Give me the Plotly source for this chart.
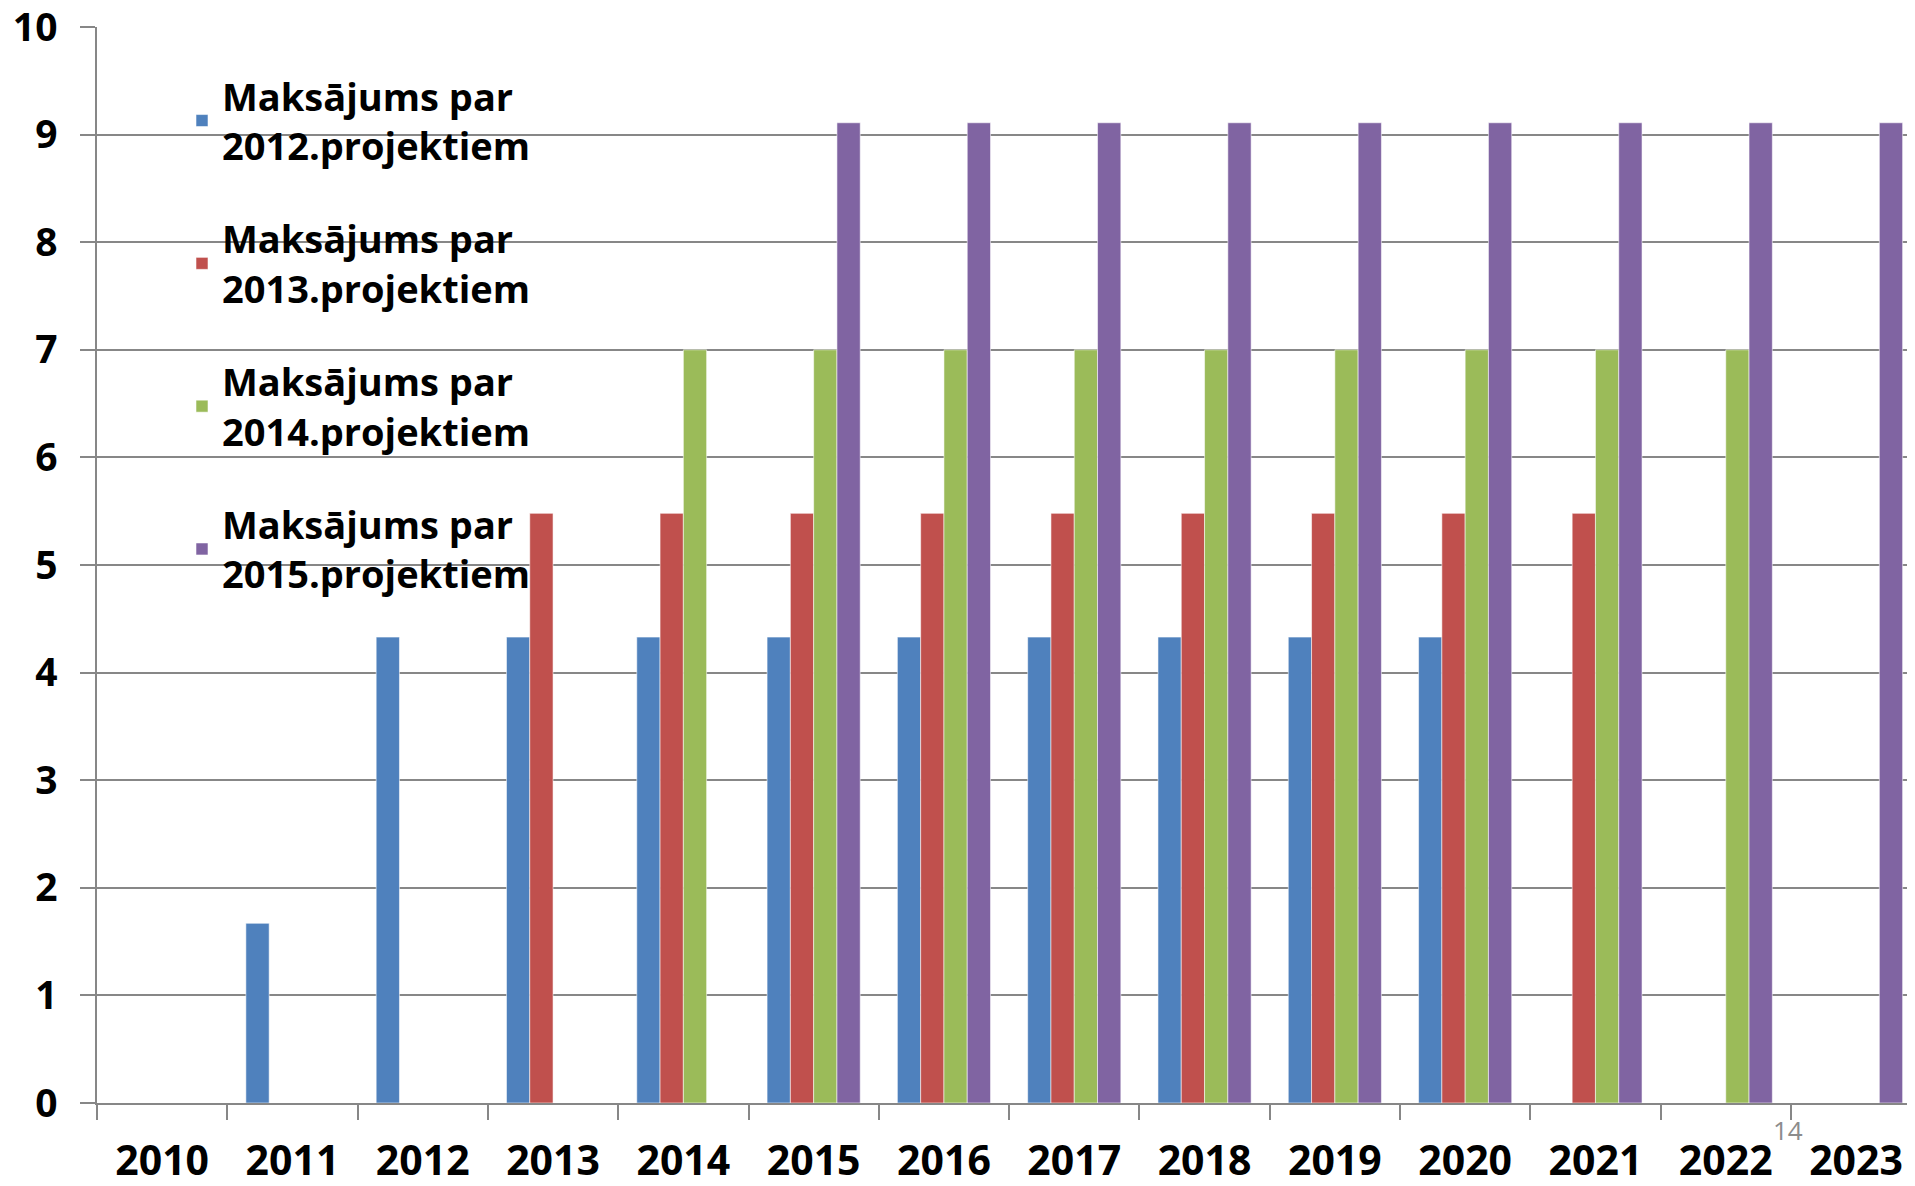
import plotly.graph_objects as go

years = ["2010", "2011", "2012", "2013", "2014", "2015", "2016",
         "2017", "2018", "2019", "2020", "2021", "2022", "2023"]

names = ["Maksājums par<br>2012.projektiem",
         "Maksājums par<br>2013.projektiem",
         "Maksājums par<br>2014.projektiem",
         "Maksājums par<br>2015.projektiem"]

pay_2012 = [None, 1.67, 4.33, 4.33, 4.33, 4.33, 4.33, 4.33, 4.33, 4.33, 4.33, None, None, None]
pay_2013 = [None, None, None, 5.48, 5.48, 5.48, 5.48, 5.48, 5.48, 5.48, 5.48, 5.48, None, None]
pay_2014 = [None, None, None, None, 7.0, 7.0, 7.0, 7.0, 7.0, 7.0, 7.0, 7.0, 7.0, None]
pay_2015 = [None, None, None, None, None, 9.11, 9.11, 9.11, 9.11, 9.11, 9.11, 9.11, 9.11, 9.11]

series = [pay_2012, pay_2013, pay_2014, pay_2015]
colors = ["#4F81BD", "#C0504D", "#9BBB59", "#8064A2"]

# page body has an 8px default margin; figure sized so it fills the window
OFF = 8
W, H = 1915 - OFF, 1186 - OFF
ML, MR, MT, MB = 97 - OFF, 0, 27 - OFF, 83
plot_w = W - ML - MR
plot_h = H - MT - MB
cat_px = 130.3
x_end = -0.5 + plot_w / cat_px

fig = go.Figure()
for i, (vals, nm, col) in enumerate(zip(series, names, colors)):
    fig.add_trace(go.Bar(
        x=years, y=vals, name=nm,
        marker=dict(color=col, line=dict(color="rgba(255,255,255,0.55)", width=1)),
        legendgroup=f"g{i}",
    ))

grid_col = "#878787"
fig.update_layout(
    width=W, height=H,
    margin=dict(l=ML, r=MR, t=MT, b=MB, pad=0, autoexpand=False),
    paper_bgcolor="white", plot_bgcolor="white",
    barmode="group", bargap=0.285, bargroupgap=0,
    font=dict(family="Open Sans", color="black"),
    showlegend=True,
    legend=dict(
        x=(174 - ML) / plot_w, y=0.965, xanchor="left", yanchor="top",
        bgcolor="rgba(0,0,0,0)",
        font=dict(family="Open Sans", size=38, color="black", weight="bold"),
        tracegroupgap=41,
        itemclick=False, itemdoubleclick=False,
    ),
    xaxis=dict(
        type="category", range=[-0.5, x_end],
        showgrid=False, showline=True, linecolor=grid_col, linewidth=1.5,
        ticks="outside", tickson="boundaries", ticklen=15, tickcolor=grid_col, tickwidth=1.5,
        tickfont=dict(family="Open Sans", size=41, color="black", weight="bold"),
        ticklabelstandoff=21,
        zeroline=False, automargin=False,
    ),
    yaxis=dict(
        range=[0, 10.0001], tickvals=list(range(0, 11)),
        showgrid=True, gridcolor=grid_col, gridwidth=1.5,
        showline=True, linecolor=grid_col, linewidth=1.5,
        ticks="outside", ticklen=15, tickcolor=grid_col, tickwidth=1.5,
        tickfont=dict(family="Open Sans", size=39, color="black", weight="bold"),
        ticklabelstandoff=15, ticklabeloverflow="allow",
        zeroline=False, automargin=False,
    ),
    annotations=[dict(
        text="14", xref="paper", yref="paper",
        x=(1788 - OFF - ML) / plot_w, y=(1103 - 1130) / plot_h,
        xanchor="center", yanchor="middle", showarrow=False,
        font=dict(family="Open Sans", size=26, color="#8C8C8C"),
    )],
)

fig.write_html("out.html")
